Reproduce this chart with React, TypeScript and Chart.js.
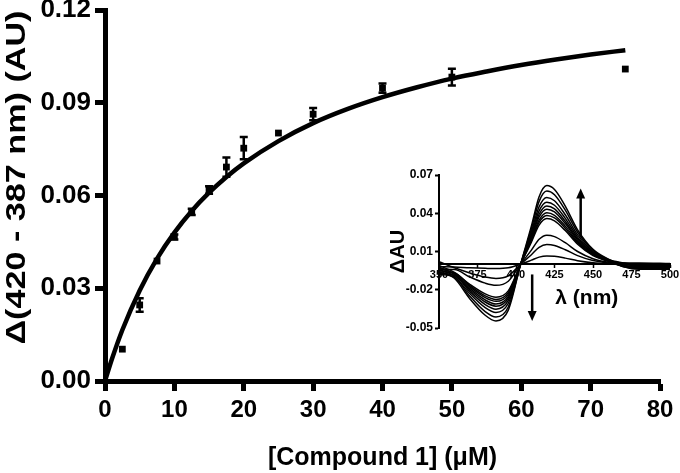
import React, { useEffect, useRef } from "react";
import { Chart, registerables } from "chart.js";

Chart.register(...registerables);

// ---------- main binding curve ----------
const concentrations = [2.5, 5, 7.5, 10, 12.5, 15, 17.5, 20, 25, 30, 40, 50, 75];
const deltaAbs = [0.0103, 0.0246, 0.0388, 0.0466, 0.0547, 0.0618, 0.0692, 0.0753, 0.0802, 0.0863, 0.0947, 0.0983, 0.1009];
const deltaAbsErr = [0, 0.0022, 0, 0.0008, 0.001, 0.0012, 0.0031, 0.0036, 0, 0.002, 0.0015, 0.0027, 0];

const fitConc = [0, 1, 2.5, 5, 7.5, 10, 12.5, 15, 17.5, 20, 25, 30, 35, 40, 45, 50, 55, 60, 65, 70, 75];
const fitAbs = [0, 0.0071, 0.0165, 0.0293, 0.0396, 0.048, 0.055, 0.0609, 0.066, 0.0704, 0.0776, 0.0834, 0.088, 0.0918, 0.095, 0.0978, 0.1001, 0.1022, 0.104, 0.1056, 0.107];

const mainXTicks = [0, 10, 20, 30, 40, 50, 60, 70, 80];
const mainYTicks = [0, 0.03, 0.06, 0.09, 0.12];
const mainXTitle = "[Compound 1] (μM)";
const mainYTitle = "Δ(420 - 387 nm) (AU)";

// ---------- inset difference spectra ----------
const wavelengths = [350, 360, 370, 380, 387, 395, 403, 410, 415, 420, 425, 432, 440, 450, 460, 470, 480, 500];
const spectrum1 = [-0.006, -0.011, -0.027, -0.04, -0.0445, -0.036, 0, 0.03, 0.053, 0.0617, 0.0586, 0.0456, 0.027, 0.0117, 0.004, -0.001, -0.003, -0.003];
const spectrum2 = [-0.008, -0.0102, -0.0251, -0.0372, -0.0414, -0.0335, 0, 0.0279, 0.0493, 0.0574, 0.0545, 0.0424, 0.0251, 0.0109, 0.0037, 0.001, -0.001, -0.002];
const spectrum3 = [-0.004, -0.0094, -0.023, -0.034, -0.0378, -0.0306, 0, 0.0255, 0.0451, 0.0524, 0.0498, 0.0388, 0.023, 0.0099, 0.0034, -0.002, -0.004, -0.004];
const spectrum4 = [-0.007, -0.0087, -0.0213, -0.0316, -0.0352, -0.0284, 0, 0.0237, 0.0419, 0.0487, 0.0463, 0.036, 0.0213, 0.0092, 0.0032, 0.0005, -0.002, -0.001];
const spectrum5 = [-0.002, -0.0081, -0.02, -0.0296, -0.0329, -0.0266, 0, 0.0222, 0.0392, 0.0457, 0.0434, 0.0337, 0.02, 0.0087, 0.003, -0.001, -0.003, -0.0035];
const spectrum6 = [-0.005, -0.0077, -0.0189, -0.028, -0.0312, -0.0252, 0, 0.021, 0.0371, 0.0432, 0.041, 0.0319, 0.0189, 0.0082, 0.0028, 0.001, 0.001, 0.0005];
const spectrum7 = [-0.003, -0.0072, -0.0177, -0.0262, -0.0291, -0.0236, 0, 0.0197, 0.0347, 0.0404, 0.0384, 0.0299, 0.0177, 0.0077, 0.0026, -0.0015, -0.0025, -0.002];
const spectrum8 = [-0.006, -0.0068, -0.0167, -0.0248, -0.0276, -0.0223, 0, 0.0186, 0.0329, 0.0383, 0.0363, 0.0283, 0.0167, 0.0073, 0.0025, 0, -0.001, -0.0015];
const spectrum9 = [-0.001, -0.0064, -0.0157, -0.0232, -0.0258, -0.0209, 0, 0.0174, 0.0307, 0.0358, 0.034, 0.0264, 0.0157, 0.0068, 0.0023, -0.002, -0.0035, -0.003];
const spectrum10 = [-0.004, -0.0041, -0.01, -0.0148, -0.0165, -0.0133, 0, 0.0111, 0.0196, 0.0228, 0.0217, 0.0169, 0.01, 0.0043, 0.0015, 0.0005, 0, -0.0005];
const spectrum11 = [0.002, -0.0028, -0.0068, -0.01, -0.0111, -0.009, 0, 0.0075, 0.0133, 0.0154, 0.0147, 0.0114, 0.0068, 0.0029, 0.001, -0.001, -0.002, -0.0025];
const spectrum12 = [-0.002, -0.0022, -0.0028, -0.0032, -0.0034, -0.0028, 0, 0.0032, 0.0056, 0.0065, 0.0062, 0.0048, 0.0028, 0.0012, 0.0004, 0, -0.0005, -0.001];
const spectra = [spectrum1, spectrum2, spectrum3, spectrum4, spectrum5, spectrum6, spectrum7, spectrum8, spectrum9, spectrum10, spectrum11, spectrum12];

const insetXTicks = [350, 375, 400, 425, 450, 475, 500];
const insetYTicks = [-0.05, -0.02, 0.01, 0.04, 0.07];
const insetYTitle = "ΔAU";

// arrows (wavelength, from value, to value) and axis label position in data units
const insetArrows = [
  { x: 442, from: 0.021, to: 0.0595 },
  { x: 410.5, from: -0.008, to: -0.0445 },
];
const lambdaLabel = { text: "λ (nm)", x: 446, y: -0.027 };

const FONT = "'Liberation Sans', Arial, Helvetica, sans-serif";

const errorBarPlugin = {
  id: "errorBars",
  afterDatasetsDraw(chart: any) {
    const { ctx } = chart;
    const xs = chart.scales.x;
    const ys = chart.scales.y;
    ctx.save();
    ctx.strokeStyle = "#000";
    ctx.lineWidth = 2.5;
    concentrations.forEach((c, i) => {
      const e = deltaAbsErr[i];
      if (!e) return;
      const px = xs.getPixelForValue(c);
      const top = ys.getPixelForValue(deltaAbs[i] + e);
      const bot = ys.getPixelForValue(deltaAbs[i] - e);
      ctx.beginPath();
      ctx.moveTo(px, top);
      ctx.lineTo(px, bot);
      ctx.moveTo(px - 4, top);
      ctx.lineTo(px + 4, top);
      ctx.moveTo(px - 4, bot);
      ctx.lineTo(px + 4, bot);
      ctx.stroke();
    });
    ctx.restore();
  },
};

// y-axis title, drawn slightly stretched along its length like the original figure
const yTitlePlugin = {
  id: "yTitle",
  afterDraw(chart: any) {
    const { ctx, chartArea } = chart;
    ctx.save();
    ctx.translate(17, (chartArea.top + chartArea.bottom) / 2 - 18);
    ctx.rotate(-Math.PI / 2);
    ctx.scale(1.22, 1);
    ctx.font = `bold 28px ${FONT}`;
    ctx.fillStyle = "#000";
    ctx.textAlign = "center";
    ctx.textBaseline = "middle";
    ctx.fillText(mainYTitle, 0, 0);
    ctx.restore();
  },
};

const insetAnnotPlugin = {
  id: "insetAnnot",
  afterDatasetsDraw(chart: any) {
    const { ctx } = chart;
    const xs = chart.scales.x;
    const ys = chart.scales.y;
    ctx.save();
    ctx.strokeStyle = "#000";
    ctx.fillStyle = "#000";
    ctx.lineWidth = 2.5;
    insetArrows.forEach((a) => {
      const px = xs.getPixelForValue(a.x);
      const y0 = ys.getPixelForValue(a.from);
      const y1 = ys.getPixelForValue(a.to);
      const dir = y1 < y0 ? -1 : 1;
      ctx.beginPath();
      ctx.moveTo(px, y0);
      ctx.lineTo(px, y1 - dir * 8);
      ctx.stroke();
      ctx.beginPath();
      ctx.moveTo(px, y1);
      ctx.lineTo(px - 4.5, y1 - dir * 10);
      ctx.lineTo(px + 4.5, y1 - dir * 10);
      ctx.closePath();
      ctx.fill();
    });
    ctx.font = `bold 21px ${FONT}`;
    ctx.textAlign = "center";
    ctx.textBaseline = "middle";
    ctx.fillText(lambdaLabel.text, xs.getPixelForValue(lambdaLabel.x), ys.getPixelForValue(lambdaLabel.y));
    ctx.restore();
  },
};

export default function App() {
  const mainRef = useRef<HTMLCanvasElement>(null);
  const insetRef = useRef<HTMLCanvasElement>(null);

  useEffect(() => {
    const xTickFont = { family: FONT, size: 24, weight: "bold" as const };
    const yTickFont = { family: FONT, size: 26, weight: "bold" as const };

    const main = new Chart(mainRef.current as HTMLCanvasElement, {
      type: "scatter",
      data: {
        datasets: [
          {
            type: "line",
            data: fitConc.map((x, i) => ({ x, y: fitAbs[i] })),
            borderColor: "#000",
            borderWidth: 4.5,
            pointRadius: 0,
            fill: false,
            cubicInterpolationMode: "monotone",
          } as any,
          {
            type: "scatter",
            data: concentrations.map((x, i) => ({ x, y: deltaAbs[i] })),
            pointStyle: "rect",
            pointRadius: 4.8,
            backgroundColor: "#000",
            borderColor: "#000",
            borderWidth: 0,
          } as any,
        ],
      },
      options: {
        responsive: false,
        animation: false,
        devicePixelRatio: 1,
        layout: { padding: { left: 0, top: 10, right: 20, bottom: 0 } },
        plugins: { legend: { display: false }, tooltip: { enabled: false } },
        scales: {
          x: {
            type: "linear",
            min: 0,
            max: 80,
            afterBuildTicks: (s: any) => {
              s.ticks = mainXTicks.map((v) => ({ value: v }));
            },
            afterFit: (s: any) => {
              s.height = 92;
              s.paddingLeft = 0;
              s.paddingRight = 0;
            },
            border: { display: true, width: 5, color: "#000" },
            grid: { display: true, drawOnChartArea: false, tickLength: 10, tickWidth: 5, tickColor: "#000", color: "#000" },
            ticks: { font: xTickFont, color: "#000", padding: 5, maxRotation: 0, autoSkip: false, callback: (v: any) => String(v) },
            title: {
              display: true,
              text: mainXTitle,
              color: "#000",
              font: { family: FONT, size: 25, weight: "bold" },
              padding: { top: 0, bottom: 0 },
            },
          },
          y: {
            type: "linear",
            min: 0,
            max: 0.12,
            afterBuildTicks: (s: any) => {
              s.ticks = mainYTicks.map((v) => ({ value: v }));
            },
            afterFit: (s: any) => {
              s.width = 105;
              s.paddingTop = 0;
              s.paddingBottom = 0;
            },
            border: { display: true, width: 5, color: "#000" },
            grid: { display: true, drawOnChartArea: false, tickLength: 10, tickWidth: 5, tickColor: "#000", color: "#000" },
            ticks: { font: yTickFont, color: "#000", padding: 4, autoSkip: false, callback: (v: any) => Number(v).toFixed(2) },
            title: { display: false },
          },
        },
      },
      plugins: [errorBarPlugin, yTitlePlugin],
    });

    const insetYFont = { family: FONT, size: 12, weight: "bold" as const };
    const insetXFont = { family: FONT, size: 11, weight: "bold" as const };
    const inset = new Chart(insetRef.current as HTMLCanvasElement, {
      type: "line",
      data: {
        datasets: spectra.map((s) => ({
          data: wavelengths.map((w, i) => ({ x: w, y: s[i] })),
          borderColor: "#000",
          borderWidth: 1.5,
          pointRadius: 0,
          fill: false,
          cubicInterpolationMode: "monotone" as const,
        })),
      },
      options: {
        responsive: false,
        animation: false,
        devicePixelRatio: 1,
        layout: { padding: { left: 0, top: 17, right: 10, bottom: 20 } },
        plugins: { legend: { display: false }, tooltip: { enabled: false } },
        scales: {
          x: {
            type: "linear",
            min: 350,
            max: 500,
            position: { y: 0 } as any,
            afterBuildTicks: (s: any) => {
              s.ticks = insetXTicks.map((v) => ({ value: v }));
            },
            afterFit: (s: any) => {
              s.paddingLeft = 0;
              s.paddingRight = 0;
              s.paddingTop = 0;
              s.paddingBottom = 0;
            },
            border: { display: true, width: 2, color: "#000" },
            grid: { display: true, drawOnChartArea: false, tickLength: 3, tickWidth: 1.5, tickColor: "#000" },
            ticks: { font: insetXFont, color: "#000", padding: 1, maxRotation: 0, autoSkip: false, callback: (v: any) => String(v) },
          },
          y: {
            type: "linear",
            min: -0.05,
            max: 0.07,
            afterBuildTicks: (s: any) => {
              s.ticks = insetYTicks.map((v) => ({ value: v }));
            },
            afterFit: (s: any) => {
              s.width = 79;
              s.paddingTop = 0;
              s.paddingBottom = 0;
            },
            border: { display: true, width: 2, color: "#000" },
            grid: { display: true, drawOnChartArea: false, tickLength: 4, tickWidth: 2, tickColor: "#000" },
            ticks: { font: insetYFont, color: "#000", padding: 2, autoSkip: false, callback: (v: any) => Number(v).toFixed(2) },
            title: {
              display: true,
              text: insetYTitle,
              color: "#000",
              font: { family: FONT, size: 20, weight: "bold" },
              padding: { top: 26, bottom: 0 },
            },
          },
        },
      },
      plugins: [insetAnnotPlugin],
    });

    return () => {
      main.destroy();
      inset.destroy();
    };
  }, []);

  return (
    <div style={{ position: "absolute", left: 0, top: 0, width: 680, height: 473, background: "#fff" }}>
      <canvas ref={mainRef} width={680} height={473} style={{ position: "absolute", left: 0, top: 0 }} />
      <canvas ref={insetRef} width={320} height={190} style={{ position: "absolute", left: 360, top: 158 }} />
    </div>
  );
}
